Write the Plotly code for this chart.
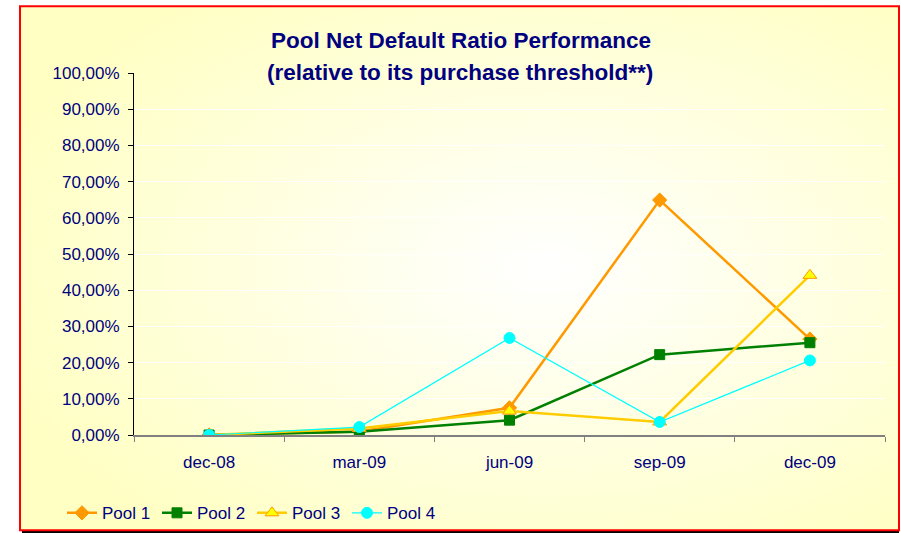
import base64
import plotly.graph_objects as go

categories = ["dec-08", "mar-09", "jun-09", "sep-09", "dec-09"]
pool1 = [0.0, 1.0, 7.5, 64.9, 26.5]
pool2 = [0.0, 0.9, 4.1, 22.2, 25.5]
pool3 = [0.0, 1.8, 6.6, 3.6, 44.1]
pool4 = [0.0, 2.2, 26.8, 3.6, 20.6]
series_names = ["Pool 1", "Pool 2", "Pool 3", "Pool 4"]
ytick_vals = [0, 10, 20, 30, 40, 50, 60, 70, 80, 90, 100]
ytick_text = ["0,00%", "10,00%", "20,00%", "30,00%", "40,00%", "50,00%",
              "60,00%", "70,00%", "80,00%", "90,00%", "100,00%"]
title1 = "Pool Net Default Ratio Performance"
title2 = "(relative to its purchase threshold**)"

VS = 543 / 533  # vertical compensation of the capture
W, H = 901, 543
# plot area in target pixels: x 134..885, y 72..433.5
L = 134
R = W - 885
T = round(71.5 * VS)
B = round(H - 432.5 * VS)
PW, PH = W - L - R, H - T - B
FONT = "Arial, Liberation Sans, sans-serif"
NAVY = "#000080"


def px(x):  # target pixel -> paper x
    return (x - L) / PW


def py(y):  # target pixel -> paper y
    return (H - B - y * VS) / PH


styles = [
    dict(line=dict(color="#FF9900", width=2.5),
         marker=dict(symbol="diamond", size=11, color="#FF9900", line=dict(color="#FF9900", width=1))),
    dict(line=dict(color="#008000", width=2.5),
         marker=dict(symbol="square", size=10, color="#008000", line=dict(color="#008000", width=1))),
    dict(line=dict(color="#FFCC00", width=2.5),
         marker=dict(symbol="triangle-up", size=12, color="#FFFF00", line=dict(color="#FF9900", width=1))),
    dict(line=dict(color="#00FFFF", width=1.2),
         marker=dict(symbol="circle", size=11, color="#00FFFF", line=dict(color="#00FFFF", width=1))),
]

fig = go.Figure()
for name, vals, st in zip(series_names, [pool1, pool2, pool3, pool4], styles):
    fig.add_trace(go.Scatter(x=categories, y=vals, name=name, mode="lines+markers",
                             line=st["line"], marker=st["marker"]))

svg = ('<svg xmlns="http://www.w3.org/2000/svg" width="879" height="522" preserveAspectRatio="none">'
       '<defs><radialGradient id="g" cx="0.6" cy="0.5" r="0.65">'
       '<stop offset="0" stop-color="#FFFFFF"/><stop offset="1" stop-color="#FFFFC4"/>'
       '</radialGradient></defs><rect width="879" height="522" fill="url(#g)"/></svg>')
src = "data:image/svg+xml;base64," + base64.b64encode(svg.encode()).decode()

bx0, bx1, by0, by1 = 20, 899, 5, 528
fig.add_layout_image(dict(source=src, xref="paper", yref="paper",
                          x=px(bx0), y=py(by0), sizex=px(bx1) - px(bx0), sizey=py(by0) - py(by1),
                          xanchor="left", yanchor="top", sizing="stretch", layer="below"))

shapes = [
    dict(type="rect", xref="paper", yref="paper", x0=px(bx0 + 2), x1=px(bx1), y0=py(by1), y1=py(by1 + 3.5),
         fillcolor="black", line=dict(width=0), layer="below"),
    dict(type="rect", xref="paper", yref="paper", x0=px(bx0), x1=px(bx1), y0=py(by1), y1=py(by0),
         fillcolor="rgba(0,0,0,0)", line=dict(color="#FF0000", width=2), layer="above"),
]

fig.update_layout(
    width=W, height=H,
    margin=dict(l=L, r=R, t=T, b=B),
    paper_bgcolor="white",
    plot_bgcolor="rgba(0,0,0,0)",
    font=dict(family=FONT, color=NAVY, size=17),
    shapes=shapes,
    showlegend=True,
    legend=dict(orientation="h", x=px(62), y=py(511), xanchor="left", yanchor="middle",
                bgcolor="rgba(0,0,0,0)", font=dict(size=17, color=NAVY, family=FONT),
                entrywidth=50, entrywidthmode="pixels", itemwidth=30, tracegroupgap=0),
    annotations=[
        dict(text="<b>" + title1 + "</b>", xref="paper", yref="paper", x=px(461), y=py(39.5),
             showarrow=False, xanchor="center", yanchor="middle",
             font=dict(size=22.5, color=NAVY, family=FONT)),
        dict(text="<b>" + title2 + "</b>", xref="paper", yref="paper", x=px(460), y=py(71.5),
             showarrow=False, xanchor="center", yanchor="middle",
             font=dict(size=22.5, color=NAVY, family=FONT)),
    ],
    xaxis=dict(range=[-0.5, 4.5], showgrid=False, showline=True, linecolor="#808080", linewidth=2,
               tickmode="array", tickvals=list(range(len(categories))), ticktext=categories,
               ticks="", ticklabelstandoff=11, tickfont=dict(size=17, color=NAVY),
               minor=dict(tick0=-0.5, dtick=1, ticks="outside", ticklen=5, tickcolor="#808080",
                          tickwidth=1, showgrid=False),
               zeroline=False),
    yaxis=dict(range=[0, 100], tickmode="array", tickvals=ytick_vals, ticktext=ytick_text,
               showgrid=True, gridcolor="white", gridwidth=1, showline=True, linecolor="black",
               linewidth=1, ticks="outside", ticklen=5, tickcolor="black", zeroline=False,
               ticklabelstandoff=5, tickfont=dict(size=17, color=NAVY)),
)
for tr in fig.data:
    tr.x = list(range(len(categories)))

post = ("document.body.style.margin='0';"
        "var d=document.getElementById('{plot_id}');"
        "d.style.position='fixed';d.style.left='0px';d.style.top='0px';")
fig.write_html("out.html", post_script=post, config={"displayModeBar": False})
